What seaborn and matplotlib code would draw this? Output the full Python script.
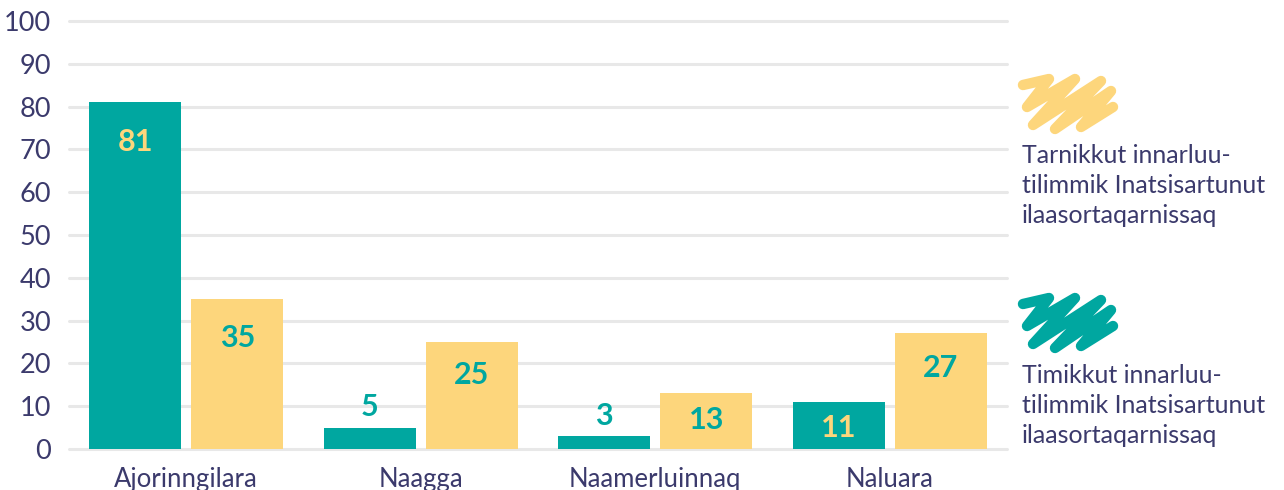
import matplotlib
matplotlib.use("Agg")
import matplotlib.pyplot as plt
import seaborn as sns
import pandas as pd
from matplotlib.lines import Line2D

# data
categories = ["Ajorinngilara", "Naagga", "Naamerluinnaq", "Naluara"]
timikkut = [81, 5, 3, 11]
tarnikkut = [35, 25, 13, 27]
series_names = [
    "Timikkut innarluu-\ntilimmik Inatsisartunut\nilaasortaqarnissaq",
    "Tarnikkut innarluu-\ntilimmik Inatsisartunut\nilaasortaqarnissaq",
]
yticks = list(range(0, 101, 10))

TEAL = "#00A7A0"
YELLOW = "#FDD67C"
TEXT = "#3B3A6C"
GRID = "#E8E8E8"

df = pd.DataFrame({
    "category": categories * 2,
    "value": timikkut + tarnikkut,
    "series": [series_names[0]] * 4 + [series_names[1]] * 4,
})

sns.set_theme(style="white")
plt.rcParams["font.family"] = ["Lato", "DejaVu Sans"]

W, H = 1284, 490
fig = plt.figure(figsize=(W / 100, H / 100), dpi=100)
ax = fig.add_axes([69 / W, 1 - 449 / H, (1007 - 69) / W, (449 - 21) / H])

sns.barplot(
    data=df, x="category", y="value", hue="series",
    palette=[TEAL, YELLOW], width=0.87, gap=0.1,
    legend=False, ax=ax, saturation=1, linewidth=0,
)

ax.set_ylim(0, 100)
ax.set_xlim(-0.5, 3.5)
ax.set_yticks(yticks)
ax.set_xlabel("")
ax.set_ylabel("")
for s in ax.spines.values():
    s.set_visible(False)
ax.yaxis.grid(True, color=GRID, linewidth=2.2, clip_on=False)
ax.set_axisbelow(True)
ax.tick_params(axis="y", length=0, pad=13, labelsize=19.5, labelcolor=TEXT)
ax.tick_params(axis="x", length=0, pad=13, labelsize=18.5, labelcolor=TEXT)

# value labels: inside the bar near its top, or just above a short bar
px_per_unit = (449 - 21) / 100
label_colors = [YELLOW, TEAL]
for cont, lc in zip(ax.containers, label_colors):
    for bar in cont:
        h = bar.get_height()
        cx = bar.get_x() + bar.get_width() / 2
        h_px = h * px_per_unit
        if h >= 10:
            below = min(37, 17 + 0.13 * h_px) + 11.5
            ax.annotate(f"{h:.0f}", (cx, h), xytext=(0, -below * 0.72), textcoords="offset points",
                        ha="center", va="baseline", fontsize=22, fontweight="bold", color=lc)
        else:
            ax.annotate(f"{h:.0f}", (cx, h), xytext=(0, 8.3), textcoords="offset points",
                        ha="center", va="baseline", fontsize=22, fontweight="bold", color=TEAL)


# legend: scribble marks with text below
def scribble(x0, y0, color):
    pts = [(4, 8), (30, 2), (8, 30), (56, 2), (14, 48), (82, 4), (36, 52),
           (92, 14), (62, 50), (94, 30)]
    xs = [(x0 + px) / W for px, py in pts]
    ys = [1 - (y0 + py) / H for px, py in pts]
    fig.add_artist(Line2D(xs, ys, color=color, linewidth=7.5,
                          solid_capstyle="round", solid_joinstyle="round",
                          transform=fig.transFigure))


scribble(1019, 77, YELLOW)
scribble(1019, 296, TEAL)

fig.text(1022 / W, 1 - 144 / H, series_names[1], ha="left", va="top",
         fontsize=18, color=TEXT, linespacing=1.36)
fig.text(1022 / W, 1 - 364 / H, series_names[0], ha="left", va="top",
         fontsize=18, color=TEXT, linespacing=1.36)

fig.savefig("out.png", dpi=100)
